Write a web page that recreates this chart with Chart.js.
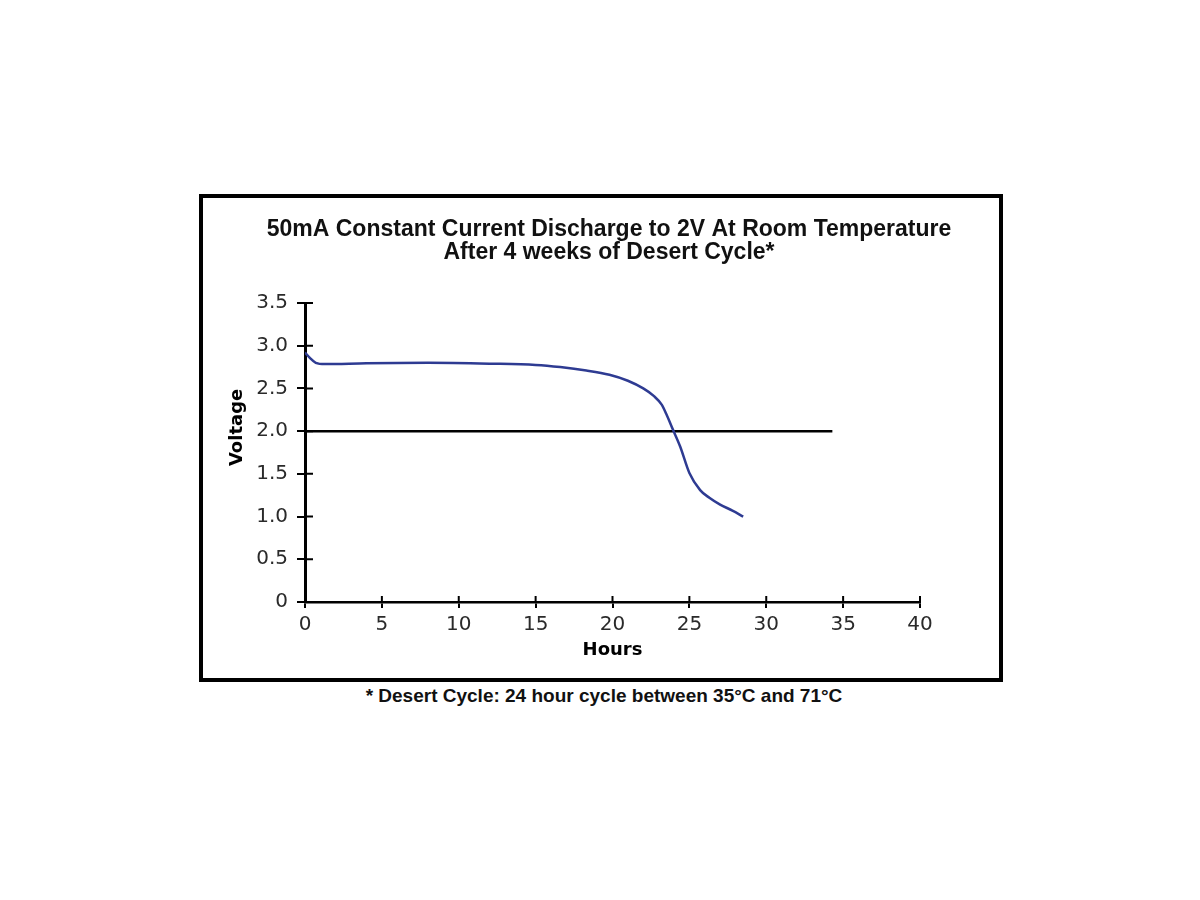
<!DOCTYPE html>
<html>
<head>
<meta charset="utf-8">
<script src="https://cdn.jsdelivr.net/npm/chart.js@4/dist/chart.umd.min.js"></script>
<style>
  body { margin: 0; background: #fff; width: 1200px; height: 900px; position: relative; }
  #box { position: absolute; left: 199px; top: 194px; width: 804px; height: 488px; border: 4px solid #000; box-sizing: border-box; }
  #wrap { position: absolute; left: 0; top: 0; width: 796px; height: 480px; }
  #note { position: absolute; left: 0; width: 1208px; top: 685px; text-align: center; font: bold 19px "Liberation Sans", Arial, sans-serif; color: #111; }
</style>
</head>
<body>
<div id="box"><div id="wrap"><canvas id="chart"></canvas></div></div>
<div id="note">* Desert Cycle: 24 hour cycle between 35°C and 71°C</div>
<script>
const hours = [0, 0.3, 0.7, 1.3, 4, 8, 12, 15, 16.6, 18.3, 19.8, 21, 22, 22.7, 23.2, 23.5, 23.9, 24.4, 25.0, 25.7, 26.3, 27.0, 27.8, 28.5];
const voltage = [2.92, 2.86, 2.80, 2.785, 2.795, 2.80, 2.79, 2.775, 2.75, 2.71, 2.66, 2.59, 2.50, 2.41, 2.31, 2.20, 2.03, 1.82, 1.51, 1.31, 1.22, 1.14, 1.07, 1.00];
const cutoffHours = [0, 34.3];
const cutoffVolts = [2, 2];
const xTicks = [0, 5, 10, 15, 20, 25, 30, 35, 40];
const yTicks = [0, 0.5, 1.0, 1.5, 2.0, 2.5, 3.0, 3.5];

const tickFont = { family: "DejaVu Sans", size: 20 };
const titleFont = { family: "DejaVu Sans", size: 18, weight: "bold" };

// draw the half of each tick mark that sits inside the plot
const innerTicks = {
  id: "innerTicks",
  afterDraw(chart) {
    const { ctx, chartArea, scales } = chart;
    ctx.save();
    ctx.strokeStyle = "#000";
    ctx.lineWidth = 2;
    ctx.beginPath();
    scales.x.ticks.forEach(t => {
      const px = scales.x.getPixelForValue(t.value);
      ctx.moveTo(px, chartArea.bottom);
      ctx.lineTo(px, chartArea.bottom - 6);
    });
    scales.y.ticks.forEach(t => {
      const py = scales.y.getPixelForValue(t.value);
      ctx.moveTo(chartArea.left, py);
      ctx.lineTo(chartArea.left + 8, py);
    });
    ctx.stroke();
    ctx.restore();
  }
};

new Chart(document.getElementById("chart"), {
  type: "line",
  data: {
    datasets: [
      {
        data: hours.map((h, i) => ({ x: h, y: voltage[i] })),
        borderColor: "#2e3b92",
        borderWidth: 2.5,
        pointRadius: 0,
        cubicInterpolationMode: "monotone",
        fill: false
      },
      {
        data: cutoffHours.map((h, i) => ({ x: h, y: cutoffVolts[i] })),
        borderColor: "#000",
        borderWidth: 2.5,
        pointRadius: 0,
        fill: false
      }
    ]
  },
  options: {
    responsive: true,
    maintainAspectRatio: false,
    animation: false,
    layout: { padding: { left: 16, right: 0, top: 0, bottom: 0 } },
    plugins: {
      legend: { display: false },
      tooltip: { enabled: false },
      title: {
        display: true,
        text: ["50mA Constant Current Discharge to 2V At Room Temperature", "After 4 weeks of Desert Cycle*"],
        color: "#111",
        font: { family: "Liberation Sans", size: 23, weight: "bold", lineHeight: 1.0 },
        padding: { top: 20.5, bottom: 38.5 }
      }
    },
    scales: {
      x: {
        type: "linear",
        min: 0,
        max: 40,
        afterBuildTicks: s => { s.ticks = xTicks.map(v => ({ value: v })); },
        afterFit: s => { s.height = 76; },
        ticks: { color: "#2a2a2a", font: tickFont, padding: 5, maxRotation: 0 },
        grid: { display: true, drawOnChartArea: false, drawTicks: true, tickLength: 6, color: "#000", lineWidth: 2 },
        border: { display: true, color: "#000", width: 2.5 },
        title: { display: true, text: "Hours", color: "#000", font: titleFont, padding: { top: 0, bottom: 17 } }
      },
      y: {
        min: 0,
        max: 3.5,
        afterBuildTicks: s => { s.ticks = yTicks.map(v => ({ value: v })); },
        afterFit: s => { s.width = 86; },
        ticks: { color: "#2a2a2a", font: tickFont, padding: 9, callback: v => v === 0 ? "0" : v.toFixed(1) },
        grid: { display: true, drawOnChartArea: false, drawTicks: true, tickLength: 8, color: "#000", lineWidth: 2 },
        border: { display: true, color: "#000", width: 3 },
        title: { display: true, text: "        Voltage", color: "#000", font: titleFont, padding: { top: 8, bottom: 0 } }
      },
      // empty right-hand axis that only reserves the blank margin
      yRight: {
        position: "right",
        min: 0,
        max: 3.5,
        afterFit: s => { s.width = 79; },
        ticks: { display: false },
        grid: { display: false },
        border: { display: false }
      }
    }
  },
  plugins: [innerTicks]
});
</script>
</body>
</html>
